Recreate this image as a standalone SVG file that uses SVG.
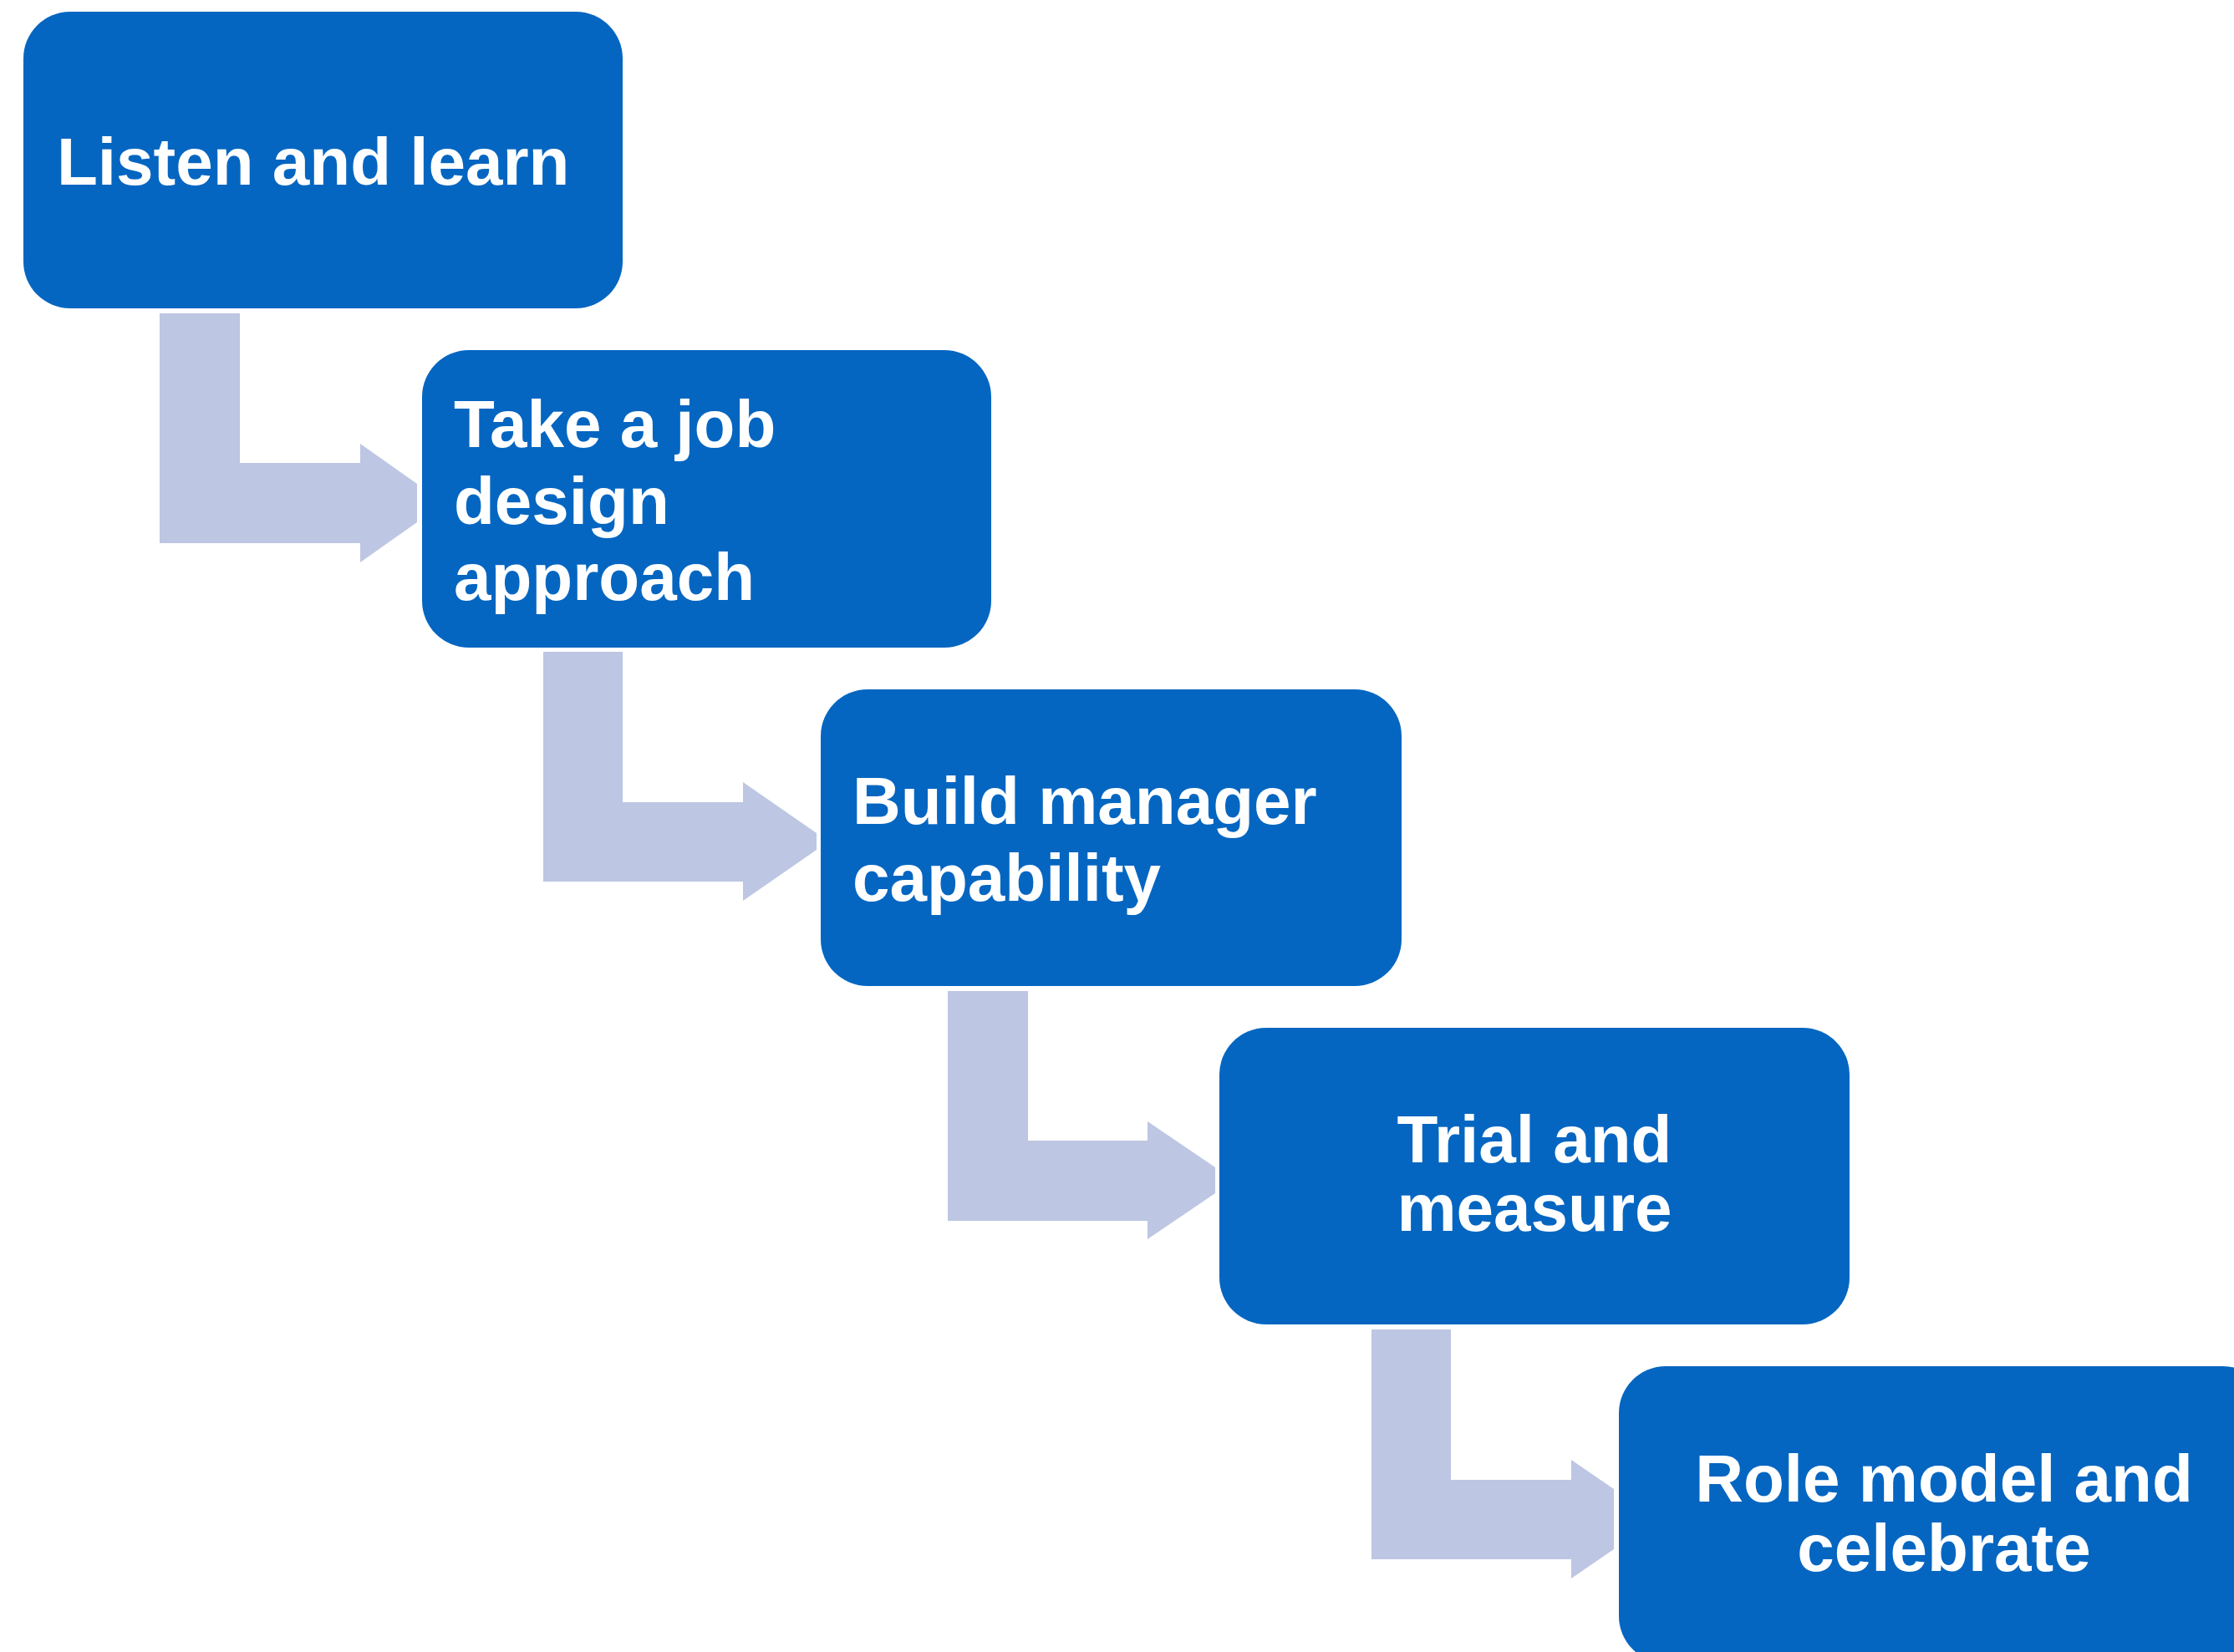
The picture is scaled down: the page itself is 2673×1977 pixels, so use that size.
<svg xmlns="http://www.w3.org/2000/svg" width="2673" height="1977" viewBox="0 0 2673 1977">
<style>
.box{fill:#0566C1;}
.arr{fill:#BDC6E2;}
.t{font-family:"Liberation Sans",Arial,sans-serif;font-weight:bold;font-size:80px;fill:#FFFFFF;}
.c{text-anchor:middle;}
</style>
<rect x="0" y="0" width="2673" height="1977" fill="#FFFFFF"/>
<g id="connectors">
<polygon class="arr" points="191,375 287,375 287,554 431,554 431,531 499,579 499,625 431,673 431,650 191,650"/>
<polygon class="arr" points="650,780 745,780 745,960 889,960 889,936 977,997 977,1017 889,1078 889,1055 650,1055"/>
<polygon class="arr" points="1134,1186 1230,1186 1230,1365 1373,1365 1373,1342 1454,1397 1454,1428 1373,1483 1373,1461 1134,1461"/>
<polygon class="arr" points="1641,1591 1736,1591 1736,1771 1880,1771 1880,1747 1931,1782 1931,1854 1880,1889 1880,1866 1641,1866"/>
</g>
<g id="node1">
<rect class="box" x="28" y="14" width="717" height="355" rx="56" ry="56"/>
<text class="t" x="68" y="221">Listen and learn</text>
</g>
<g id="node2">
<rect class="box" x="505" y="419" width="681" height="356" rx="56" ry="56"/>
<text class="t" x="543" y="535">Take a job</text>
<text class="t" x="543" y="627">design</text>
<text class="t" x="543" y="718">approach</text>
</g>
<g id="node3">
<rect class="box" x="982" y="825" width="695" height="355" rx="56" ry="56"/>
<text class="t" x="1020" y="986">Build manager</text>
<text class="t" x="1020" y="1078">capability</text>
</g>
<g id="node4">
<rect class="box" x="1459" y="1230" width="754" height="355" rx="56" ry="56"/>
<text class="t c" x="1836" y="1391">Trial and</text>
<text class="t c" x="1836" y="1473">measure</text>
</g>
<g id="node5">
<rect class="box" x="1937" y="1635" width="779" height="355" rx="56" ry="56"/>
<text class="t c" x="2326" y="1797">Role model and</text>
<text class="t c" x="2326" y="1880">celebrate</text>
</g>
</svg>
